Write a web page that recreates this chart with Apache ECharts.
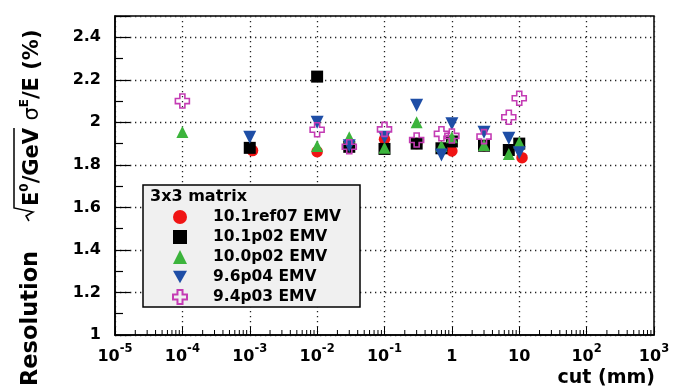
<!DOCTYPE html>
<html>
<head>
<meta charset="utf-8">
<script src="https://cdn.jsdelivr.net/npm/echarts@6/dist/echarts.min.js"></script>
<style>
  html, body { margin: 0; padding: 0; background: #fff; }
  #chart { width: 683px; height: 390px; }
</style>
</head>
<body>
<div id="chart"></div>
<script>
// Energy resolution vs. production cut, 3x3 crystal matrix, several Geant4 EM versions
const seriesNames = ['10.1ref07 EMV', '10.1p02 EMV', '10.0p02 EMV', '9.6p04 EMV', '9.4p03 EMV'];

const cutRef07 = [0.0011, 0.01, 0.03, 0.1, 0.3, 1, 3, 11];
const resRef07 = [1.867, 1.862, 1.90, 1.92, 1.90, 1.865, 1.89, 1.834];

const cutP02 = [0.001, 0.01, 0.03, 0.1, 0.3, 0.7, 1, 3, 7, 10];
const resP02 = [1.88, 2.215, 1.885, 1.875, 1.90, 1.878, 1.91, 1.89, 1.87, 1.90];

const cut100 = [0.0001, 0.01, 0.03, 0.1, 0.3, 0.7, 1, 3, 7, 10];
const res100 = [1.955, 1.889, 1.93, 1.88, 2.0, 1.889, 1.93, 1.894, 1.851, 1.905];

const cut96 = [0.001, 0.01, 0.03, 0.1, 0.3, 0.7, 1, 3, 7, 10];
const res96 = [1.93, 2.0, 1.89, 1.93, 2.08, 1.846, 1.993, 1.953, 1.925, 1.857];

const cut94 = [0.0001, 0.01, 0.03, 0.1, 0.3, 0.7, 1, 3, 7, 10];
const res94 = [2.10, 1.965, 1.885, 1.967, 1.917, 1.946, 1.936, 1.933, 2.024, 2.113];

// axis ranges and ticks
const xMin = 1e-5, xMax = 1e3;
const yMin = 1, yMax = 2.5, yStep = 0.2;

// secondary log ticks (2..9 in every decade)
const minorTickVals = [];
for (let e = -5; e < 3; e++) {
  for (let m = 2; m <= 9; m++) minorTickVals.push([m * Math.pow(10, e), yMin]);
}

const FONT = 'DejaVu Sans';
const crossPath = 'path://M3.2,0H6.8V3.2H10V6.8H6.8V10H3.2V6.8H0V3.2H3.2Z';
const downTriangle = 'path://M0,0L10,0L5,9Z';

function pairs(xs, ys) { return xs.map((x, i) => [x, ys[i]]); }

const chart = echarts.init(document.getElementById('chart'), null, { renderer: 'canvas' });

const option = {
  backgroundColor: '#ffffff',
  animation: false,
  grid: {
    left: 115, right: 29, top: 16, bottom: 55,
    show: true, borderColor: '#000', borderWidth: 1.5, backgroundColor: 'transparent'
  },
  xAxis: {
    type: 'log', logBase: 10, min: xMin, max: xMax, interval: 1,
    axisLine: { lineStyle: { color: '#000', width: 1.5 } },
    axisTick: { inside: true, length: 8, lineStyle: { color: '#000', width: 1 } },
    splitLine: { show: true, lineStyle: { color: '#222', width: 1.3, type: [1.3, 3.7] } },
    axisLabel: {
      margin: 8,
      formatter: function (v) {
        const e = Math.round(Math.log10(v));
        if (e === 0) return '{b|1}';
        if (e === 1) return '{b|10}';
        return '{b|10}{s|' + e + '}';
      },
      rich: {
        b: { fontFamily: FONT, fontWeight: 'bold', fontSize: 16, color: '#000', lineHeight: 22, verticalAlign: 'bottom' },
        s: { fontFamily: FONT, fontWeight: 'bold', fontSize: 11.5, color: '#000', lineHeight: 22, verticalAlign: 'top', padding: [0, 0, 8, 0] }
      }
    }
  },
  yAxis: {
    type: 'value', min: yMin, max: yMax, interval: yStep,
    axisLine: { lineStyle: { color: '#000', width: 1.5 } },
    axisTick: { inside: true, length: 15, lineStyle: { color: '#000', width: 1.2 } },
    minorTick: { show: true, splitNumber: 2, length: 8, lineStyle: { color: '#000', width: 1.2 } },
    splitLine: { show: true, lineStyle: { color: '#222', width: 1.3, type: [1.3, 3.7] } },
    axisLabel: {
      margin: 14, showMaxLabel: false,
      fontFamily: FONT, fontWeight: 'bold', fontSize: 16, color: '#000',
      formatter: function (v) { return String(Math.round(v * 10) / 10); }
    }
  },
  legend: {
    orient: 'vertical', left: 172, top: 209, padding: 0,
    itemWidth: 14, itemHeight: 14, itemGap: 4,
    textStyle: { fontFamily: FONT, fontWeight: 'bold', fontSize: 15.5, color: '#000', padding: [0, 0, 0, 21] },
    data: seriesNames, z: 10
  },
  graphic: [
    // legend frame and heading
    { type: 'rect', z: 8, shape: { x: 143, y: 185, width: 217, height: 122 },
      style: { fill: '#f0f0f0', stroke: '#000', lineWidth: 1.5 } },
    { type: 'text', z: 9, x: 150, y: 197,
      style: { text: '3x3 matrix', font: 'bold 16px "DejaVu Sans"', fill: '#000', textVerticalAlign: 'middle' } },
    // axis titles
    { type: 'text', z: 9, x: 655, y: 378,
      style: { text: 'cut (mm)', font: 'bold 19px "DejaVu Sans"', fill: '#000', textAlign: 'right', textVerticalAlign: 'middle' } },
    { type: 'text', z: 9, x: 43, y: 386, rotation: Math.PI / 2,
      style: { text: 'Resolution', font: 'bold 22.5px "DejaVu Sans"', fill: '#000', textAlign: 'left', textVerticalAlign: 'bottom' } },
    { type: 'text', z: 9, x: 43, y: 206, rotation: Math.PI / 2,
      style: {
        text: '{m|E}{s|0}{m|/GeV }{g|σ}{s|E}{m|/E (%)}',
        textAlign: 'left', textVerticalAlign: 'bottom',
        rich: {
          m: { fontFamily: FONT, fontWeight: 'bold', fontSize: 21, lineHeight: 24, verticalAlign: 'bottom', fill: '#000' },
          g: { fontFamily: FONT, fontWeight: 'normal', fontSize: 21, lineHeight: 24, verticalAlign: 'bottom', fill: '#000' },
          s: { fontFamily: FONT, fontWeight: 'bold', fontSize: 12, lineHeight: 12, verticalAlign: 'top', fill: '#000' }
        }
      } },
    // square-root sign over E0/GeV
    { type: 'polyline', z: 9,
      shape: { points: [[14, 128], [14, 208], [33, 212], [26, 216], [29, 221]] },
      style: { stroke: '#000', lineWidth: 1.5, fill: null } }
  ],
  series: [
    { name: seriesNames[0], type: 'scatter', data: pairs(cutRef07, resRef07),
      symbol: 'circle', symbolSize: 11.5, itemStyle: { color: '#f01414', opacity: 1 } },
    { name: seriesNames[1], type: 'scatter', data: pairs(cutP02, resP02),
      symbol: 'rect', symbolSize: 12, itemStyle: { color: '#000', opacity: 1 } },
    { name: seriesNames[2], type: 'scatter', data: pairs(cut100, res100),
      symbol: 'triangle', symbolSize: 12, itemStyle: { color: '#3cb43c', opacity: 1 } },
    { name: seriesNames[3], type: 'scatter', data: pairs(cut96, res96),
      symbol: downTriangle, symbolSize: 13, itemStyle: { color: '#1e4ea6', opacity: 1 } },
    { name: seriesNames[4], type: 'scatter', data: pairs(cut94, res94),
      symbol: crossPath, symbolSize: 14,
      itemStyle: { color: 'rgba(255,255,255,0)', borderColor: '#c43cb4', borderWidth: 1.6, opacity: 1 } },
    {
      type: 'custom', silent: true, clip: false, legendHoverLink: false,
      data: minorTickVals,
      renderItem: function (params, api) {
        const p = api.coord([api.value(0), api.value(1)]);
        return { type: 'line', shape: { x1: p[0], y1: p[1], x2: p[0], y2: p[1] - 5 },
                 style: { stroke: '#000', lineWidth: 1 } };
      }
    }
  ]
};

chart.setOption(option);
</script>
</body>
</html>
